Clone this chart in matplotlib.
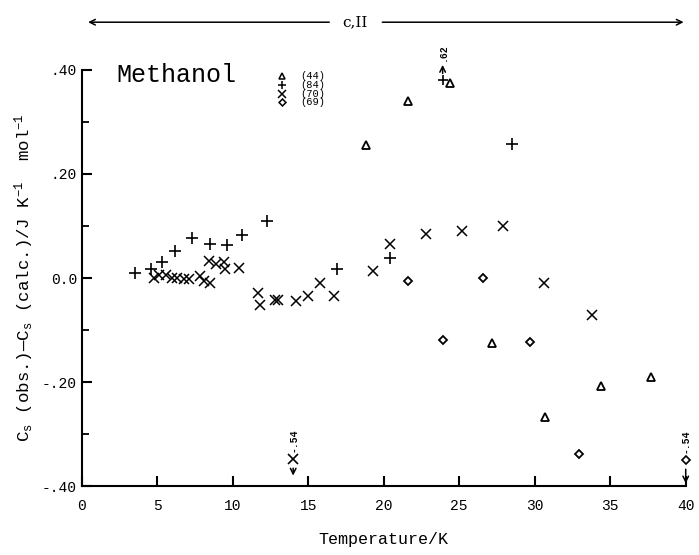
import matplotlib
matplotlib.use("Agg")
import matplotlib.pyplot as plt
from matplotlib.ticker import MultipleLocator

# ── data ──────────────────────────────────────────────────────────────────────
# (44) triangles
t44 = [18.8, 21.6, 24.4, 27.2, 30.7, 34.4, 37.7]
c44 = [0.256, 0.340, 0.375, -0.124, -0.268, -0.208, -0.190]

# (84) plus
t84 = [3.5, 4.6, 5.3, 6.2, 7.3, 8.5, 9.6, 10.6, 12.3, 16.9, 20.4, 28.5]
c84 = [0.010, 0.017, 0.030, 0.052, 0.077, 0.066, 0.063, 0.083, 0.110,
       0.018, 0.038, 0.258]

# (70) crosses
t70 = [4.8, 5.1, 5.6, 6.0, 6.3, 6.8, 7.1, 7.8, 8.1, 8.5, 8.4, 8.9, 9.4, 9.5,
       10.4, 11.7, 11.8, 12.8, 13.0, 14.2, 15.0, 15.8, 16.7, 19.3, 20.4,
       22.8, 25.2, 27.9, 30.6, 33.8]
c70 = [0.000, 0.005, 0.005, 0.000, 0.000, -0.002, -0.002, 0.003, -0.005,
       -0.010, 0.033, 0.027, 0.030, 0.018, 0.020, -0.028, -0.052, -0.043,
       -0.043, -0.044, -0.035, -0.010, -0.035, 0.013, 0.066, 0.085, 0.090,
       0.100, -0.010, -0.071]

# (69) diamonds
t69 = [21.6, 23.9, 26.6, 29.7, 32.9]
c69 = [-0.006, -0.120, 0.000, -0.122, -0.338]

# off-scale points: temperature, true value, marker, height drawn at
off_t = [23.9, 14.0, 40.0]
off_v = [".62", "-.54", "-.54"]
off_m = ["+", "x", "D"]
off_y = [0.380, -0.348, -0.350]

legend_refs = ["(44)", "(84)", "(70)", "(69)"]
legend_marks = ["^", "+", "x", "D"]

MONO = "Liberation Mono"
SERIF = "DejaVu Serif"
plt.rcParams["font.family"] = [MONO, "DejaVu Sans"]
plt.rcParams["mathtext.fontset"] = "custom"
plt.rcParams["mathtext.rm"] = MONO
plt.rcParams["mathtext.it"] = MONO
plt.rcParams["axes.unicode_minus"] = False

fig = plt.figure(figsize=(6.99, 5.55), dpi=100)
ax = fig.add_axes([0.117, 0.124, 0.864, 0.750])
ax.set_xlim(0, 40)
ax.set_ylim(-0.40, 0.40)

kw = dict(color="black", linestyle="none", clip_on=False)
ax.plot(t44, c44, marker="^", ms=6, mfc="white", mec="black", mew=1.3, **kw)
ax.plot(t84, c84, marker="+", ms=8, mew=1.2, **kw)
ax.plot(t70, c70, marker="x", ms=7, mew=1.1, **kw)
ax.plot(t69, c69, marker="D", ms=4.5, mfc="white", mec="black", mew=1.3, **kw)

# off-scale points with arrows and values
for t, v, m, y in zip(off_t, off_v, off_m, off_y):
    mfc = "white" if m == "D" else "black"
    ms = 4.5 if m == "D" else 7
    ax.plot([t], [y], marker=m, ms=ms, mfc=mfc, mec="black", mew=1.2, **kw)
    if v.startswith("-"):
        ax.annotate("", xy=(t, -0.40 if t >= 40 else -0.385), xytext=(t, y - 0.012),
                    arrowprops=dict(arrowstyle="->", lw=1.1, color="black"),
                    annotation_clip=False)
        ax.text(t, y + 0.014, v, rotation=90, ha="center", va="bottom",
                fontsize=7, fontweight="bold")
    else:
        ax.annotate("", xy=(t, 0.415), xytext=(t, y + 0.008),
                    arrowprops=dict(arrowstyle="->", lw=1.1, color="black"),
                    annotation_clip=False)
        ax.text(t, 0.418, v, rotation=90, ha="center", va="bottom",
                fontsize=7, fontweight="bold")

# key, drawn by hand like the original
for i, (lab, m) in enumerate(zip(legend_refs, legend_marks)):
    yy = 0.985 - i * 0.021
    mfc = "white" if m in ("^", "D") else "black"
    ms = {"^": 5, "+": 6, "x": 5.5, "D": 3.5}[m]
    ax.plot([0.332], [yy], marker=m, ms=ms, mfc=mfc, mec="black", mew=1.1,
            transform=ax.transAxes, color="black", clip_on=False)
    ax.text(0.362, yy, lab, transform=ax.transAxes, va="center", ha="left",
            fontsize=7.5)

ax.text(0.058, 0.988, "Methanol", transform=ax.transAxes, va="center",
        ha="left", fontsize=18)

# axes styling
for s in ("top", "right"):
    ax.spines[s].set_visible(False)
for s in ("left", "bottom"):
    ax.spines[s].set_linewidth(1.5)
ax.xaxis.set_major_locator(MultipleLocator(5))
ax.yaxis.set_major_locator(MultipleLocator(0.2))
ax.yaxis.set_minor_locator(MultipleLocator(0.1))
ax.tick_params(axis="both", which="major", direction="in", length=7, width=1.5,
               labelsize=10.5)
ax.tick_params(axis="x", pad=9)
ax.tick_params(axis="y", which="minor", direction="in", length=5, width=1.3)
ax.set_xticks([0, 5, 10, 15, 20, 25, 30, 35, 40])
ax.set_xticklabels(["0", "5", "10", "15", "20", "25", "30", "35", "40"])
ax.set_yticks([-0.4, -0.2, 0.0, 0.2, 0.4])
ax.set_yticklabels(["-.40", "-.20", "0.0", ".20", ".40"])

ax.set_xlabel("Temperature/K", fontsize=12, labelpad=14)
ax.set_ylabel("C$_s$ (obs.)\u2014C$_s$ (calc.)/J K$^{-1}$  mol$^{-1}$",
              fontsize=12.5, labelpad=4)

# phase arrow across the top
fig.text(0.508, 0.960, "c,II", ha="center", va="center", fontsize=11,
         family=SERIF)
ax.annotate("", xy=(0.122, 0.960), xytext=(0.475, 0.960),
            xycoords="figure fraction", textcoords="figure fraction",
            arrowprops=dict(arrowstyle="->", lw=1.1, color="black"))
ax.annotate("", xy=(0.982, 0.960), xytext=(0.543, 0.960),
            xycoords="figure fraction", textcoords="figure fraction",
            arrowprops=dict(arrowstyle="->", lw=1.1, color="black"))

fig.savefig("out.png", dpi=100)
